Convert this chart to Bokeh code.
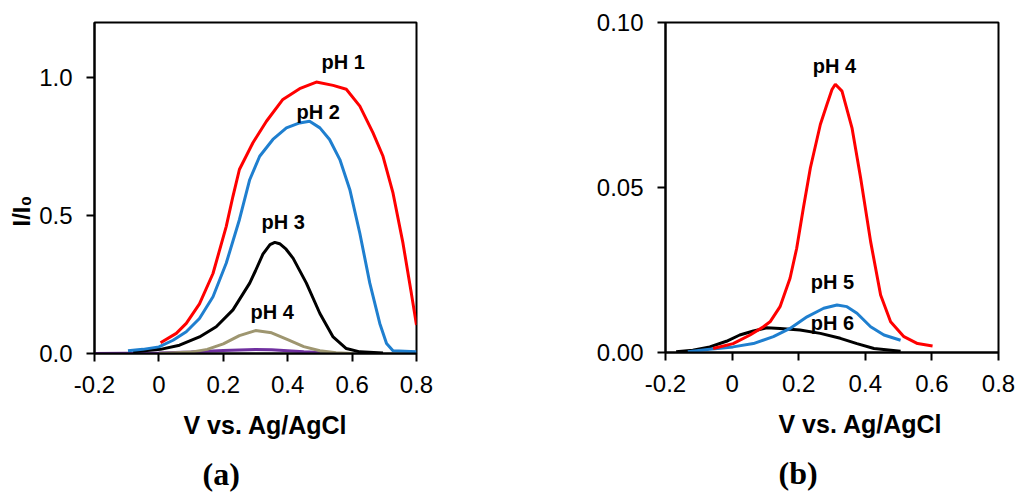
from bokeh.plotting import figure
from bokeh.layouts import row
from bokeh.models import Range1d, FixedTicker, Title
from bokeh.core.properties import value
from bokeh.embed import file_html
from bokeh.resources import INLINE

# ---------------- data: panel (a) ----------------
a_ph1_v = [0.005, 0.054, 0.085, 0.126, 0.168, 0.209, 0.23, 0.25, 0.292, 0.334, 0.385, 0.437, 0.489, 0.541, 0.582, 0.624, 0.665, 0.696, 0.727, 0.758, 0.784, 0.8]
a_ph1_y = [0.039, 0.073, 0.109, 0.18, 0.29, 0.46, 0.57, 0.667, 0.764, 0.842, 0.921, 0.96, 0.984, 0.972, 0.958, 0.897, 0.8, 0.715, 0.582, 0.4, 0.218, 0.103]

a_ph2_v = [-0.096, -0.05, 0.0, 0.044, 0.085, 0.126, 0.168, 0.209, 0.25, 0.282, 0.313, 0.354, 0.396, 0.437, 0.468, 0.5, 0.53, 0.562, 0.593, 0.624, 0.655, 0.686, 0.707, 0.727, 0.8]
a_ph2_y = [0.010, 0.015, 0.024, 0.048, 0.079, 0.127, 0.206, 0.327, 0.485, 0.63, 0.715, 0.776, 0.818, 0.836, 0.842, 0.818, 0.776, 0.703, 0.594, 0.436, 0.255, 0.109, 0.036, 0.01, 0.006]

a_ph3_v = [-0.08, 0.005, 0.064, 0.126, 0.178, 0.23, 0.282, 0.30, 0.323, 0.345, 0.36, 0.375, 0.395, 0.417, 0.458, 0.5, 0.541, 0.582, 0.624, 0.696]
a_ph3_y = [0.006, 0.015, 0.03, 0.06, 0.097, 0.158, 0.255, 0.30, 0.36, 0.395, 0.403, 0.398, 0.378, 0.345, 0.255, 0.145, 0.06, 0.018, 0.006, 0.002]

a_ph4_v = [0.0, 0.1, 0.15, 0.2, 0.25, 0.3, 0.35, 0.4, 0.45, 0.5, 0.55, 0.6]
a_ph4_y = [0.0, 0.005, 0.015, 0.035, 0.065, 0.083, 0.075, 0.05, 0.025, 0.01, 0.003, 0.0]

a_ph5_v = [-0.2, -0.1, 0.0, 0.1, 0.2, 0.3, 0.35, 0.4, 0.45, 0.5]
a_ph5_y = [0.0, 0.001, 0.002, 0.005, 0.011, 0.0145, 0.014, 0.01, 0.006, 0.004]

a_labels = ["pH 1", "pH 2", "pH 3", "pH 4"]
a_label_v = [0.572, 0.495, 0.386, 0.352]
a_label_y = [1.058, 0.877, 0.475, 0.152]

# ---------------- data: panel (b) ----------------
b_ph4_v = [-0.057, 0.003, 0.054, 0.094, 0.114, 0.144, 0.174, 0.194, 0.214, 0.235, 0.265, 0.285, 0.3, 0.31, 0.33, 0.36, 0.386, 0.416, 0.446, 0.476, 0.516, 0.557, 0.602]
b_ph4_y = [0.0012, 0.0027, 0.0053, 0.0078, 0.0093, 0.0139, 0.0225, 0.0316, 0.0438, 0.0559, 0.0691, 0.0752, 0.0797, 0.0813, 0.0792, 0.0681, 0.0529, 0.0336, 0.0174, 0.0093, 0.0048, 0.0027, 0.002]

b_ph5_v = [-0.133, -0.067, 0.003, 0.064, 0.124, 0.174, 0.225, 0.275, 0.315, 0.345, 0.375, 0.416, 0.456, 0.506]
b_ph5_y = [0.0002, 0.001, 0.0017, 0.0027, 0.0048, 0.0073, 0.0108, 0.0134, 0.0144, 0.0139, 0.0119, 0.0078, 0.0053, 0.0037]

b_ph6_v = [-0.168, -0.118, -0.067, -0.017, 0.023, 0.064, 0.104, 0.144, 0.204, 0.265, 0.325, 0.375, 0.426, 0.506]
b_ph6_y = [0.0002, 0.0007, 0.0017, 0.0034, 0.0053, 0.0065, 0.0075, 0.0073, 0.0068, 0.0058, 0.0043, 0.0027, 0.0012, 0.0004]

b_labels = ["pH 4", "pH 5", "pH 6"]
b_label_v = [0.3075, 0.3015, 0.3015]
b_label_y = [0.0867, 0.0215, 0.0088]

# ---------------- ticks ----------------
x_ticks = [-0.2, 0.0, 0.2, 0.4, 0.6, 0.8]
x_tick_labels = ["-0.2", "0", "0.2", "0.4", "0.6", "0.8"]
a_y_ticks = [0.0, 0.5, 1.0]
a_y_tick_labels = ["0.0", "0.5", "1.0"]
b_y_ticks = [0.0, 0.05, 0.10]
b_y_tick_labels = ["0.00", "0.05", "0.10"]

RED = "#ff0000"
BLUE = "#1f7fcf"
BLACK = "#000000"
OLIVE = "#9e9670"
PURPLE = "#7030a0"
SANS = "Liberation Sans"
SERIF = "Liberation Serif"


def style(p, xt, xl, yt, yl):
    p.grid.visible = False
    p.outline_line_color = "black"
    p.outline_line_width = 2
    p.outline_line_alpha = 1
    for ax in (p.xaxis[0], p.yaxis[0]):
        ax.axis_line_width = 2
        ax.major_tick_line_width = 2
        ax.major_tick_in = 0
        ax.major_tick_out = 8
        ax.minor_tick_line_color = None
        ax.major_label_text_font = SANS
        ax.major_label_text_font_size = "24px"
        ax.major_label_text_color = "black"
    p.xaxis[0].ticker = FixedTicker(ticks=xt)
    p.xaxis[0].major_label_overrides = {t: l for t, l in zip(xt, xl)}
    p.xaxis[0].major_label_standoff = 14
    p.yaxis[0].ticker = FixedTicker(ticks=yt)
    p.yaxis[0].major_label_overrides = {t: l for t, l in zip(yt, yl)}
    p.yaxis[0].major_label_standoff = 14


def title(p, text, side, size, offset, standoff, font=SANS):
    p.add_layout(Title(text=text, align="left", offset=offset, standoff=standoff,
                       text_font=font, text_font_size=size, text_font_style="bold",
                       text_color="black"), side)


def texts(p, labels, xs, ys):
    p.text(xs, ys, text=labels, text_font_size="20px", text_font_style="bold",
           text_align="center", text_baseline="middle", text_color="black",
           text_font=value(SANS))


# ---------------- panel (a) ----------------
pa = figure(frame_width=322, frame_height=331, output_backend="svg", toolbar_location=None,
            x_range=Range1d(-0.2, 0.8), y_range=Range1d(0, 1.2),
            min_border_left=94, min_border_right=24, min_border_top=22, min_border_bottom=140,
            background_fill_color="white", border_fill_color="white")
style(pa, x_ticks, x_tick_labels, a_y_ticks, a_y_tick_labels)

pa.line(a_ph5_v, a_ph5_y, line_color=PURPLE, line_width=3)
pa.line(a_ph4_v, a_ph4_y, line_color=OLIVE, line_width=3)
pa.line(a_ph3_v, a_ph3_y, line_color=BLACK, line_width=3)
pa.line(a_ph2_v, a_ph2_y, line_color=BLUE, line_width=3)
pa.line(a_ph1_v, a_ph1_y, line_color=RED, line_width=3)
texts(pa, a_labels, a_label_v, a_label_y)

title(pa, "V vs. Ag/AgCl", "below", "25px", 89, 26)
title(pa, "(a)", "below", "32px", 108, 4, font=SERIF)
title(pa, "I/I\u2080", "left", "24px", 127, 4)

# ---------------- panel (b) ----------------
pb = figure(frame_width=333, frame_height=330, output_backend="svg", toolbar_location=None,
            x_range=Range1d(-0.2, 0.8), y_range=Range1d(0, 0.10),
            min_border_left=225, min_border_right=18, min_border_top=22, min_border_bottom=140,
            background_fill_color="white", border_fill_color="white")
style(pb, x_ticks, x_tick_labels, b_y_ticks, b_y_tick_labels)

pb.line(b_ph6_v, b_ph6_y, line_color=BLACK, line_width=3)
pb.line(b_ph5_v, b_ph5_y, line_color=BLUE, line_width=3)
pb.line(b_ph4_v, b_ph4_y, line_color=RED, line_width=3)
texts(pb, b_labels, b_label_v, b_label_y)

title(pb, "V vs. Ag/AgCl", "below", "25px", 113, 26)
title(pb, "(b)", "below", "32px", 113, 4, font=SERIF)

layout = row(pa, pb)
open("out.html", "w").write(file_html(layout, INLINE))
